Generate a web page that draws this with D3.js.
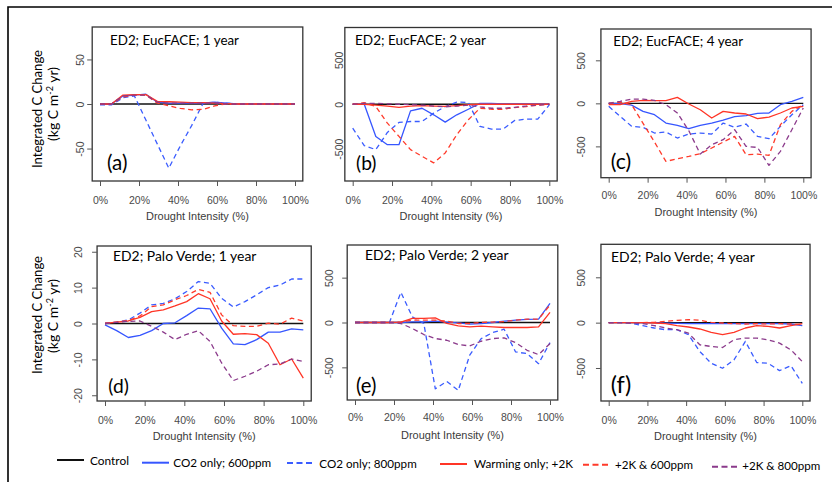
<!DOCTYPE html>
<html><head><meta charset="utf-8">
<script src="https://cdn.jsdelivr.net/npm/d3@7"></script>
<style>body{margin:0;background:#fff}svg{display:block}</style>
</head><body>
<svg id="chart" width="832" height="482"></svg>
<script>
// ---------- DATA ----------
const drought = [0, 5.88, 11.76, 17.65, 23.53, 29.41, 35.29, 41.18, 47.06, 52.94, 58.82, 64.71, 70.59, 76.47, 82.35, 88.24, 94.12, 100];
const xTicks = [0, 20, 40, 60, 80, 100];
const xTickLabels = ["0%", "20%", "40%", "60%", "80%", "100%"];
const control = [0,0,0,0,0,0,0,0,0,0,0,0,0,0,0,0,0,0];

// (a) EucFACE 1 year
const euc1_co2_600 = [0, 0, 9, 10, 11, 2, 1, 1, 1, 1, 2, 1, 0, 0, 0, 0, 0, 0];
const euc1_co2_800 = [-1, -1, 7, 9, -18, -45, -72, -47, -24, 1, 2, 1, 0, 0, 0, 0, 0, 0];
const euc1_warm    = [0, 0, 10, 10.5, 10.5, 3, 2.5, 2, 1.5, 1.5, 1, 0.5, 0, 0, 0, 0, 0, 0];
const euc1_k2_600  = [0, 0, 8, 10, 10, 1, -2, -5, -6.5, -6, -2, 0, 0, 0, 0, 0, 0, 0];
const euc1_k2_800  = [0, 0, 9, 10, 10, 2, 1, 1, 1, 1, 1, 0, 0, 0, 0, 0, 0, 0];
// (b) EucFACE 2 year
const euc2_co2_600 = [0, 0, -362, -455, -455, -75, -45, -119, -201, -119, -56, 10, 10, 5, 5, 5, 5, 0];
const euc2_co2_800 = [-269, -466, -511, -317, -205, -194, -194, -100, -26, 25, 20, -250, -280, -280, -183, -168, -168, -7];
const euc2_warm    = [0, 0, -10, -20, -35, -20, -15, -20, -25, -15, -5, 0, 0, 0, 0, 0, 0, 0];
const euc2_k2_600  = [0, 19, -26, -213, -362, -511, -586, -660, -548, -343, -175, -45, -56, -56, -37, -26, -10, 0];
const euc2_k2_800  = [0, 10, 10, 5, 0, -5, -10, -20, -30, -20, -10, -30, -45, -45, -35, -20, -10, 0];
// (c) EucFACE 4 year
const euc4_co2_600 = [0, -4, -20, -93, -132, -229, -256, -295, -256, -229, -194, -155, -143, -116, -112, -16, 23, 70];
const euc4_co2_800 = [-35, -151, -267, -279, -345, -333, -403, -357, -345, -357, -229, -279, -240, -384, -411, -267, -132, -16];
const euc4_warm    = [-15, -15, 23, 35, 31, 31, 70, -8, -74, -170, -93, -112, -124, -178, -159, -112, -54, -35];
const euc4_k2_600  = [0, 10, -15, -233, -450, -675, -643, -616, -585, -519, -450, -384, -597, -589, -605, -248, -93, -16];
const euc4_k2_800  = [0, 23, 50, 50, 35, -15, -112, -318, -589, -481, -422, -306, -500, -512, -721, -558, -306, -54];
// (d) Palo Verde 1 year
const pv1_co2_600 = [-0.4, -2, -3.9, -3.3, -2, 0, 0.2, 2.2, 4.3, 4.1, -1.3, -5.7, -5.9, -4.5, -2.4, -2.4, -1.5, -1.8];
const pv1_co2_800 = [0, 0.4, 1.0, 2.9, 5.2, 5.6, 6.9, 8.9, 11.7, 11.2, 7.0, 4.6, 6.1, 8.0, 10.0, 10.7, 12.4, 12.4];
const pv1_warm    = [0, 0.4, 0.7, 1.7, 3.3, 3.8, 4.9, 6.1, 8.3, 6.9, 0.7, -3, -2.8, -3.1, -5.5, -11.5, -9.9, -15.2];
const pv1_k2_600  = [0, 0.4, 0.8, 2.1, 4.7, 5.2, 6.6, 7.8, 9.5, 8.7, 2.4, -0.6, -0.8, -0.8, 0.1, -0.2, 1.5, 0.7];
const pv1_k2_800  = [0, 0.3, 0.6, 0.7, -0.8, -2.4, -4.5, -3, -2, -5, -11, -15.9, -14.7, -13.3, -11.5, -11.3, -9.9, -10.6];
// (e) Palo Verde 2 year
const pv2_co2_600 = [0, 0, 0, 0, 0, 7, 7, 15, 5, -5, -19, -11, 0, 15, 26, 34, 37, 213];
const pv2_co2_800 = [0, 0, 0, 0, 336, 63, -11, -739, -657, -757, -365, -180, -112, -75, -328, -347, -459, -224];
const pv2_warm    = [0, 0, 0, 0, 5, 45, 45, 52, -11, -37, -48, -41, -48, -56, -56, -56, -48, 112];
const pv2_k2_600  = [0, 0, 0, 0, 5, 26, 26, 26, 15, -11, -11, 0, 5, 10, 26, 37, 37, 195];
const pv2_k2_800  = [0, 0, 0, 0, -11, -67, -134, -179, -198, -246, -261, -209, -179, -172, -224, -310, -358, -235];
// (f) Palo Verde 4 year
const pv4_co2_600 = [0, 0, 0, 0, 0, -5, -8, -10, -10, -10, -10, -10, -10, -10, -10, -10, -15, -33];
const pv4_co2_800 = [0, 0, -7, -33, -59, -78, -78, -133, -318, -448, -503, -411, -207, -440, -448, -529, -474, -670];
const pv4_warm    = [0, 0, 0, 0, -4, -11, -33, -48, -70, -107, -133, -107, -59, -33, -41, -59, -33, -11];
const pv4_k2_600  = [0, 0, 0, 0, 4, 15, 26, 33, 26, 4, -4, -11, -15, -11, -15, -11, -15, -22];
const pv4_k2_800  = [0, 0, -4, -11, -33, -59, -78, -115, -244, -263, -274, -189, -170, -170, -189, -226, -300, -429];

const seriesLabels = ["Control", "CO2 only; 600ppm", "CO2 only; 800ppm", "Warming only; +2K", "+2K & 600ppm", "+2K & 800ppm"];
const panelTitles = ["ED2; EucFACE; 1 year", "ED2; EucFACE; 2 year", "ED2; EucFACE; 4 year",
                     "ED2; Palo Verde; 1 year", "ED2; Palo Verde; 2 year", "ED2; Palo Verde; 4 year"];
const panelLetters = ["(a)", "(b)", "(c)", "(d)", "(e)", "(f)"];
const panelYLim = [80, 800, 800, 20, 800, 800];
const panelYTicks = [[-50, 0, 50], [-500, 0, 500], [-500, 0, 500], [-20, -10, 0, 10, 20], [-500, 0, 500], [-500, 0, 500]];
const panelSeries = [
  [control, euc1_co2_600, euc1_co2_800, euc1_warm, euc1_k2_600, euc1_k2_800],
  [control, euc2_co2_600, euc2_co2_800, euc2_warm, euc2_k2_600, euc2_k2_800],
  [control, euc4_co2_600, euc4_co2_800, euc4_warm, euc4_k2_600, euc4_k2_800],
  [control, pv1_co2_600, pv1_co2_800, pv1_warm, pv1_k2_600, pv1_k2_800],
  [control, pv2_co2_600, pv2_co2_800, pv2_warm, pv2_k2_600, pv2_k2_800],
  [control, pv4_co2_600, pv4_co2_800, pv4_warm, pv4_k2_600, pv4_k2_800]
];

// ---------- STYLE / LAYOUT ----------
const colors = ["#111111", "#3656ff", "#3a5cff", "#ff3526", "#ff3a2a", "#8b3a8b"];
const dashes = [null, null, "5,3.5", null, "5,3.5", "5,3.5"];
const layout = [
  {x0:100,   x100:295,   top:27,   bottom:181,   tX:110,   tY:45,   tW:129, lX:107,   lY:170, yl:80.5, xl:200,   xtY:220, tick:5},
  {x0:352.7, x100:549.3, top:27.5, bottom:181,   tX:355,   tY:45,   tW:131, lX:356,   lY:170, yl:339,  xl:200,   xtY:220, tick:0},
  {x0:608.7, x100:803.3, top:29,   bottom:177.7, tX:613.3, tY:46,   tW:130, lX:610.7, lY:169, yl:581,  xl:195.5, xtY:216, tick:5},
  {x0:105,   x100:303.3, top:246,  bottom:401,   tX:113,   tY:261,  tW:143.5,lX:108.3,lY:393, yl:78.3, xl:420,   xtY:440, tick:5},
  {x0:355,   x100:550,   top:245,  bottom:400,   tX:365,   tY:260,  tW:143.7,lX:356,   lY:393, yl:329.5,xl:417,   xtY:439, tick:5},
  {x0:608.7, x100:802.3, top:244.3,bottom:401,   tX:611,   tY:261.7,tW:144, lX:610.7, lY:393, yl:581,  xl:420,   xtY:440, tick:5}
];

const svg = d3.select("#chart");
const CAL = "Lato, 'Open Sans', sans-serif";
const ARI = "'Liberation Sans', Arial, sans-serif";

function fit(sel, target) {
  const w = sel.node().getComputedTextLength();
  const fs = parseFloat(sel.style("font-size"));
  if (w > 0) sel.style("font-size", (fs * target / w) + "px");
  return sel;
}

// outer frame
svg.append("path").attr("d", "M8,482V7H832").attr("fill", "none").attr("stroke", "#000").attr("stroke-width", 1.6);

layout.forEach((L, i) => {
  const g = svg.append("g");
  const x = d3.scaleLinear().domain([0, 100]).range([L.x0, L.x100]);
  const ylim = panelYLim[i] * 1.08;
  const y = d3.scaleLinear().domain([-ylim, ylim]).range([L.bottom, L.top]);
  const bx0 = x(-4), bx1 = x(104);

  // lines
  const line = d3.line().x((d, j) => x(drought[j])).y(d => y(d));
  panelSeries[i].forEach((vals, s) => {
    g.append("path").datum(vals).attr("d", line)
      .attr("fill", "none").attr("stroke", colors[s])
      .attr("stroke-width", s === 0 ? 1.4 : 1.3)
      .attr("stroke-dasharray", dashes[s])
      .attr("stroke-linejoin", "round");
  });

  // box
  g.append("rect").attr("x", bx0).attr("y", L.top).attr("width", bx1 - bx0).attr("height", L.bottom - L.top)
    .attr("fill", "none").attr("stroke", "#333").attr("stroke-width", 1.3);

  // x axis
  const xa = g.append("g").attr("transform", `translate(0,${L.bottom})`)
    .call(d3.axisBottom(x).tickValues(xTicks).tickFormat((d, k) => xTickLabels[k]).tickSize(5).tickSizeOuter(0));
  xa.select(".domain").remove();
  xa.selectAll("line").attr("stroke", "#555");
  xa.selectAll("text").attr("y", L.xl - L.bottom).attr("dy", "0.35em")
    .style("font-family", ARI).style("font-size", "10.5px").attr("fill", "#4a4a4a");

  // y axis
  const ya = g.append("g").attr("transform", `translate(${bx0},0)`)
    .call(d3.axisLeft(y).tickValues(panelYTicks[i]).tickFormat(d => String(d)).tickSize(L.tick).tickSizeOuter(0));
  ya.select(".domain").remove();
  ya.selectAll("line").attr("stroke", "#555");
  ya.selectAll("text").attr("x", null).attr("dy", null)
    .attr("transform", `translate(${L.yl - bx0 + 3.8},0) rotate(-90)`)
    .attr("text-anchor", "middle")
    .style("font-family", ARI).style("font-size", "10.5px").attr("fill", "#4a4a4a");

  // title
  const t = g.append("text").attr("x", L.tX).attr("y", L.tY).text(panelTitles[i])
    .style("font-family", CAL).style("font-size", "14px").attr("fill", "#000");
  fit(t, L.tW);
  // letter
  const lt = g.append("text").attr("x", L.lX).attr("y", L.lY).text(panelLetters[i])
    .style("font-family", CAL).style("font-size", "19px").attr("fill", "#000");
  fit(lt, 20.5);
  // x title
  const xt = g.append("text").attr("x", (L.x0 + L.x100) / 2).attr("y", L.xtY).attr("text-anchor", "middle")
    .text("Drought Intensity (%)").style("font-family", ARI).style("font-size", "11px").attr("fill", "#3a3a3a");
  fit(xt, 103);
});

// y-axis titles
[[109, 104], [315, 316]].forEach(([c1, c2]) => {
  const t1 = svg.append("text").attr("transform", `translate(42,${c1}) rotate(-90)`).attr("text-anchor", "middle")
    .text("Integrated C Change").style("font-family", CAL).style("font-size", "14px").attr("fill", "#000");
  fit(t1, 118);
  const t2 = svg.append("text").attr("transform", `translate(58,${c2}) rotate(-90)`).attr("text-anchor", "middle")
    .style("font-family", CAL).style("font-size", "14px").attr("fill", "#000");
  t2.append("tspan").text("(kg C m");
  t2.append("tspan").attr("baseline-shift", "super").style("font-size", "9px").text("-2");
  t2.append("tspan").text(" yr)");
  fit(t2, 74);
});

// legend
const legLayout = [
  {x1:57,  x2:84,  ly:460,   tx:90,    ty:465,   tw:39},
  {x1:142, x2:169, ly:462.7, tx:173.3, ty:467.3, tw:98},
  {x1:287, x2:314, ly:463,   tx:319.3, ty:468,   tw:97.5},
  {x1:440, x2:467, ly:464,   tx:474,   ty:468,   tw:99},
  {x1:583, x2:611, ly:464.7, tx:615,   ty:468.5, tw:78},
  {x1:712, x2:740, ly:466.7, tx:742.3, ty:470,   tw:78}
];
seriesLabels.forEach((lab, s) => {
  const L = legLayout[s];
  svg.append("line").attr("x1", L.x1).attr("x2", L.x2).attr("y1", L.ly).attr("y2", L.ly)
    .attr("stroke", colors[s]).attr("stroke-width", 2).attr("stroke-dasharray", dashes[s] ? "6,3.5" : null);
  const t = svg.append("text").attr("x", L.tx).attr("y", L.ty).text(lab)
    .style("font-family", CAL).style("font-size", "13px").attr("fill", "#000");
  fit(t, L.tw);
});
</script>
</body></html>
